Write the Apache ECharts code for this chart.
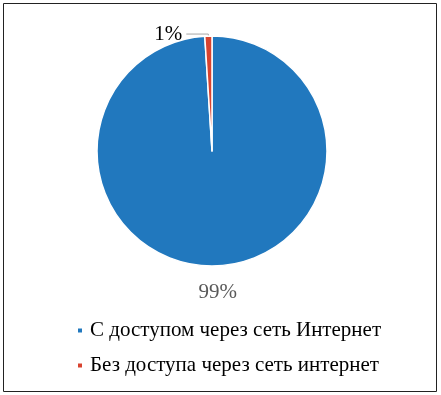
<!DOCTYPE html>
<html>
<head>
<meta charset="utf-8">
<script src="https://cdn.jsdelivr.net/npm/echarts@6/dist/echarts.min.js"></script>
<style>
html,body{margin:0;padding:0;background:#fff;}
#chart{width:441px;height:395px;}
</style>
</head>
<body>
<div id="chart"></div>
<script>
const categories = ['С доступом через сеть Интернет', 'Без доступа через сеть интернет'];
const values = [99, 1];
const labelsText = ['99%', '1%'];
const colors = ['#2178BE', '#D8432F'];

const chart = echarts.init(document.getElementById('chart'), null, {renderer: 'canvas'});
const font = 'Liberation Serif';

chart.setOption({
  animation: false,
  backgroundColor: '#ffffff',
  graphic: [{
    type: 'rect',
    shape: {x: 3.5, y: 3.5, width: 433, height: 388},
    style: {fill: 'none', stroke: '#222', lineWidth: 1},
    silent: true
  }],
  legend: {
    orient: 'vertical',
    left: 71,
    top: 315,
    itemWidth: 6,
    itemHeight: 6,
    itemGap: 14,
    icon: 'rect',
    textStyle: {fontFamily: font, fontSize: 21, color: '#000', padding: [0, 0, 0, 2]},
    data: categories
  },
  series: [{
    type: 'pie',
    center: [212, 151],
    radius: [0, 115],
    startAngle: 90,
    clockwise: true,
    itemStyle: {borderColor: '#fff', borderWidth: 1.5},
    label: {
      show: true,
      position: 'outside',
      fontFamily: font,
      fontSize: 21
    },
    data: categories.map((c, i) => ({
      name: c,
      value: values[i],
      itemStyle: {color: colors[i]},
      label: i === 0
        ? {formatter: labelsText[i], color: '#595959'}
        : {formatter: labelsText[i], color: '#000', distanceToLabelLine: 4},
      labelLine: i === 0
        ? {show: false, length: 8, length2: 0}
        : {show: true, length: 2, length2: 22, lineStyle: {color: '#A6A6A6', width: 1}}
    })),
    labelLayout: function (p) {
      if (p.dataIndex === 0) {
        return {align: 'center', verticalAlign: 'top', dy: 8, dx: -3};
      }
      return {};
    }
  }]
});
</script>
</body>
</html>
